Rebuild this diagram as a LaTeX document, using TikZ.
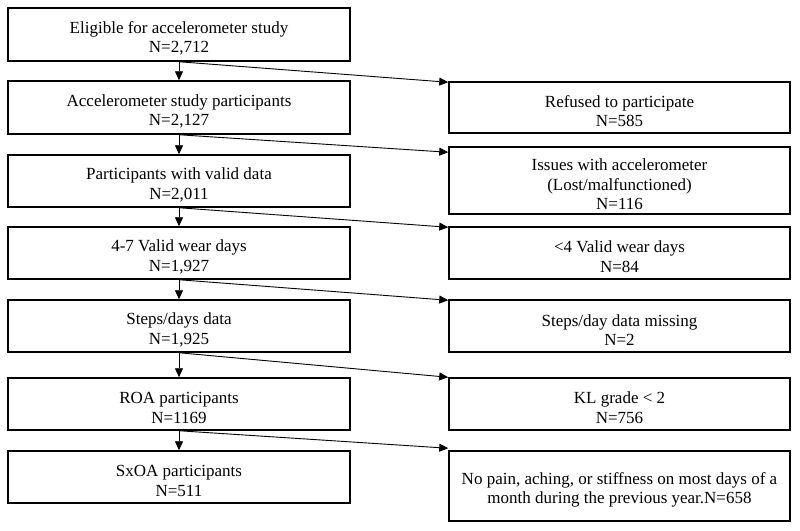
\documentclass[tikz,border=0pt]{standalone}
\usepackage{fontspec}
\setmainfont{Liberation Serif}
\usetikzlibrary{arrows.meta}
\newcommand\mytopstrut{\rule{0pt}{19.5pt}}
\begin{document}
\begin{tikzpicture}[x=1pt,y=-1pt,
  box/.style={draw, line width=1.5pt, align=center, font=\fontsize{17}{19.5}\selectfont, inner sep=0pt},
  lbox/.style={box, minimum width=342pt},
  rbox/.style={box, minimum width=341pt},
  arr/.style={-{Triangle[length=9pt,width=8pt]}, line width=0.9pt}]
\useasboundingbox (0,0) rectangle (800,530);
% left column
\node[lbox, minimum height=53pt] (b1) at (179,34.5) {\mytopstrut Eligible for accelerometer study\\N=2,712};
\node[lbox, minimum height=53pt] (b2) at (179,107.5) {\mytopstrut Accelerometer study participants\\N=2,127};
\node[lbox, minimum height=52pt] (b3) at (179,181) {\mytopstrut Participants with valid data\\N=2,011};
\node[lbox, minimum height=52pt] (b4) at (179,253) {\mytopstrut 4-7 Valid wear days\\N=1,927};
\node[lbox, minimum height=52pt] (b5) at (179,326) {\mytopstrut Steps/days data\\N=1,925};
\node[lbox, minimum height=52pt] (b6) at (179,404) {\mytopstrut ROA participants\\N=1169};
\node[lbox, minimum height=52pt] (b7) at (179,477) {\mytopstrut SxOA participants\\N=511};
% right column
\node[rbox, minimum height=51pt] (r1) at (619.5,107.5) {\mytopstrut Refused to participate\\N=585};
\node[rbox, minimum height=67pt] (r2) at (619.5,180.5) {\mytopstrut Issues with accelerometer\\(Lost/malfunctioned)\\N=116};
\node[rbox, minimum height=52pt] (r3) at (619.5,253) {\mytopstrut <4 Valid wear days\\N=84};
\node[rbox, minimum height=52pt] (r4) at (619.5,326) {\mytopstrut Steps/day data missing\\N=2};
\node[rbox, minimum height=52pt] (r5) at (619.5,404) {\mytopstrut KL grade < 2\\N=756};
\node[rbox, minimum height=70pt] (r6) at (619.5,486) {\mytopstrut No pain, aching, or stiffness on most days of a\\month during the previous year.N=658};
% vertical arrows
\draw[arr] (b1.south) -- (b2.north);
\draw[arr] (b2.south) -- (b3.north);
\draw[arr] (b3.south) -- (b4.north);
\draw[arr] (b4.south) -- (b5.north);
\draw[arr] (b5.south) -- (b6.north);
\draw[arr] (b6.south) -- (b7.north);
% exclusion arrows
\draw[arr] (b1.south) -- ([yshift=-1pt]r1.north west);
\draw[arr] (b2.south) -- ([yshift=-6pt]r2.north west);
\draw[arr] (b3.south) -- ([yshift=-1pt]r3.north west);
\draw[arr] (b4.south) -- ([yshift=-1pt]r4.north west);
\draw[arr] (b5.south) -- (r5.north west);
\draw[arr] (b6.south) -- ([yshift=2pt]r6.north west);
\end{tikzpicture}
\end{document}
